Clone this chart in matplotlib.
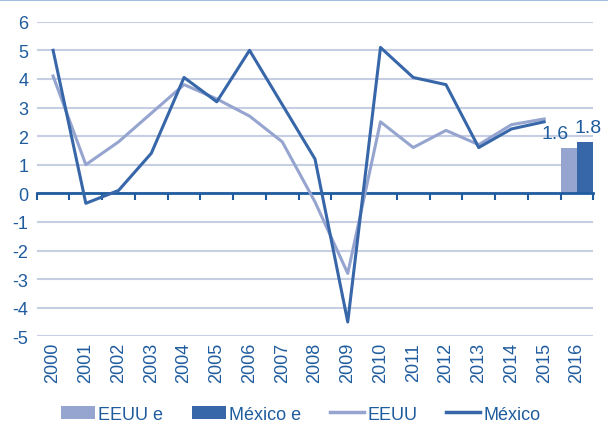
#!/usr/bin/env python3

import matplotlib
matplotlib.use("Agg")
from matplotlib import pyplot as plt
from matplotlib.lines import Line2D

years = [str(y) for y in range(2000, 2017)]
eeuu = [4.1, 1.0, 1.8, 2.8, 3.8, 3.3, 2.7, 1.8, -0.3, -2.8,
        2.5, 1.6, 2.2, 1.7, 2.4, 2.6]
mexico = [5.0, -0.35, 0.1, 1.4, 4.05, 3.2, 5.0, 3.1, 1.2, -4.5,
          5.1, 4.05, 3.8, 1.6, 2.25, 2.5]
eeuu_est = 1.6
mexico_est = 1.8

TXT = "#1F5C9E"
DARK = "#3766A9"
LIGHT = "#95A5CF"
GRID = "#C6CEE4"

plt.rcParams["font.family"] = ["Liberation Sans", "DejaVu Sans"]
plt.rcParams["axes.unicode_minus"] = False

fig = plt.figure(figsize=(6.08, 4.31), dpi=100)
ax = fig.add_axes([0.0604, 0.2174, 0.9154, 0.7299])

x = list(range(len(eeuu)))
ax.plot(x, eeuu, color=LIGHT, lw=2.2, label="EEUU")
ax.plot(x, mexico, color=DARK, lw=2.2, label="México")

pos = len(years) - 1
b1 = ax.bar(pos - 0.25, eeuu_est, width=0.5, color=LIGHT, label="EEUU e")
b2 = ax.bar(pos + 0.25, mexico_est, width=0.5, color=DARK, label="México e")
ax.annotate(f"{eeuu_est:.1f}", (pos - 0.25, eeuu_est), xytext=(-10, 4),
            textcoords="offset points", ha="center", va="bottom",
            color=TXT, fontsize=14)
ax.annotate(f"{mexico_est:.1f}", (pos + 0.25, mexico_est), xytext=(2, 4),
            textcoords="offset points", ha="center", va="bottom",
            color=TXT, fontsize=14)

ax.set_xlim(-0.5, len(years) - 0.5)
ax.set_ylim(-5, 6)
ax.set_yticks(range(-5, 7))
ax.yaxis.grid(True, color=GRID, lw=1.5)
ax.set_axisbelow(True)
ax.tick_params(axis="y", length=0, pad=6, labelsize=13, labelcolor=TXT)

for s in ["top", "right", "left"]:
    ax.spines[s].set_visible(False)
ax.spines["bottom"].set_position(("data", 0))
ax.spines["bottom"].set_color(TXT)
ax.spines["bottom"].set_linewidth(2)
ax.spines["bottom"].set_zorder(1)
ax.set_xticks([i - 0.5 for i in range(len(years) + 1)])
ax.set_xticklabels([])
ax.tick_params(axis="x", length=5, width=1.5, color=TXT, direction="out")

sec = ax.secondary_xaxis("bottom")
sec.set_xticks(range(len(years)))
sec.set_xticklabels(years, rotation=90)
sec.tick_params(length=0, pad=4, labelsize=13, labelcolor=TXT)
sec.spines["bottom"].set_visible(False)

handles = [b1, b2,
           Line2D([], [], color=LIGHT, lw=2.5),
           Line2D([], [], color=DARK, lw=2.5)]
labels = ["EEUU e", "México e", "EEUU", "México"]
leg = fig.legend(handles, labels, loc="center", bbox_to_anchor=(0.495, 0.037),
                 ncol=4, frameon=False, fontsize=13, handlelength=1.85,
                 handletextpad=0.2, columnspacing=1.6)
for t in leg.get_texts():
    t.set_color(TXT)

fig.add_artist(Line2D([0, 1], [0.998, 0.998], color="#8DB4D9", lw=1.2,
                      transform=fig.transFigure))

fig.savefig("out.png", dpi=100)
plt.close(fig)
